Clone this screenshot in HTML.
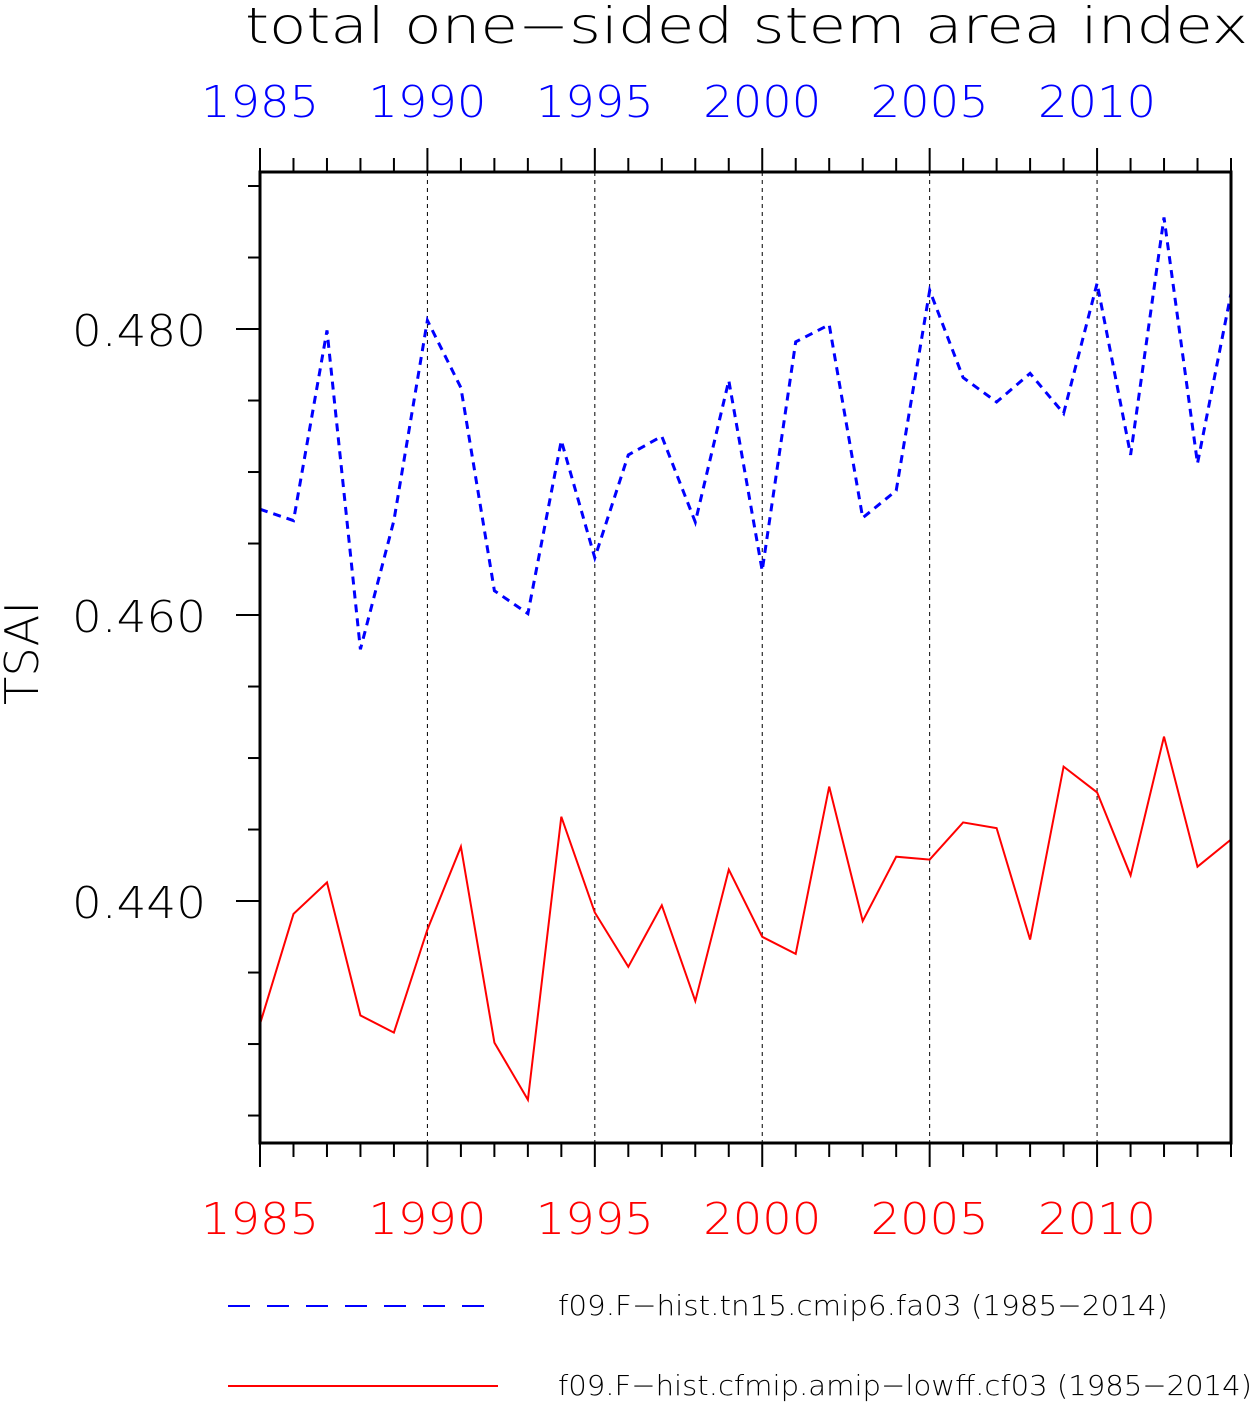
<!DOCTYPE html>
<html><head><meta charset="utf-8"><style>
body{margin:0;background:#fff;}
svg text{font-family:"DejaVu Sans","Liberation Sans",sans-serif;font-weight:200;}
</style></head><body>
<svg width="1254" height="1403" viewBox="0 0 1254 1403" xmlns="http://www.w3.org/2000/svg">
<text x="245" y="43" font-size="50" textLength="1003" lengthAdjust="spacingAndGlyphs" fill="#000">total one−sided stem area index</text>
<text x="38" y="653" font-size="46" text-anchor="middle" transform="rotate(-90 38 653)" textLength="104" lengthAdjust="spacingAndGlyphs" fill="#000">TSAI</text>
<g id="plot"></g>
<g>
<line x1="228" y1="1306" x2="498" y2="1306" stroke="#0000ff" stroke-width="2" stroke-dasharray="22,17"/>
<text x="558" y="1315" font-size="28" textLength="610" lengthAdjust="spacingAndGlyphs" fill="#000">f09.F−hist.tn15.cmip6.fa03 (1985−2014)</text>
<line x1="228" y1="1386" x2="498" y2="1386" stroke="#ff0000" stroke-width="2"/>
<text x="558" y="1395" font-size="28" textLength="694" lengthAdjust="spacingAndGlyphs" fill="#000">f09.F−hist.cfmip.amip−lowff.cf03 (1985−2014)</text>
</g>
</svg>
<script>
const years=[1985,1986,1987,1988,1989,1990,1991,1992,1993,1994,1995,1996,1997,1998,1999,2000,2001,2002,2003,2004,2005,2006,2007,2008,2009,2010,2011,2012,2013,2014];
const blueValues=[0.4674,0.4666,0.4799,0.4576,0.4666,0.4806,0.4759,0.4617,0.4601,0.4722,0.4640,0.4712,0.4725,0.4665,0.4764,0.4631,0.4791,0.4803,0.4668,0.4687,0.4827,0.4766,0.4749,0.4769,0.4741,0.4832,0.4712,0.4878,0.4706,0.4825];
const redValues=[0.4314,0.4391,0.4413,0.4320,0.4308,0.4380,0.4438,0.4301,0.4261,0.4459,0.4392,0.4354,0.4397,0.4330,0.4422,0.4375,0.4363,0.4480,0.4386,0.4431,0.4429,0.4455,0.4451,0.4373,0.4494,0.4476,0.4418,0.4515,0.4424,0.4443];
const yTickLabels=["0.440","0.460","0.480"];
const xTickLabels=["1985","1990","1995","2000","2005","2010"];
const L=260,R=1231,T=172,B=1143;
const x0=1985,x1=2014,yMin=0.42308,yMax=0.49098;
const sx=v=>L+(v-x0)/(x1-x0)*(R-L);
const sy=v=>B-(v-yMin)/(yMax-yMin)*(B-T);
const NS="http://www.w3.org/2000/svg";
const g=document.getElementById('plot');
function mk(tag,attrs){const e=document.createElementNS(NS,tag);for(const k in attrs)e.setAttribute(k,attrs[k]);g.appendChild(e);return e;}
xTickLabels.forEach(t=>{const v=+t;if(v===x0)return;
const e=mk('line',{x1:sx(v),x2:sx(v),y1:T,y2:B,stroke:'#000','stroke-width':1,'stroke-dasharray':'4,4'});

});
for(let y=x0;y<=x1;y++){const maj=(y-x0)%5===0;const X=sx(y);
const a=mk('line',{x1:X,x2:X,y1:T,y2:T-(maj?24:14),stroke:'#000','stroke-width':2});


const b=mk('line',{x1:X,x2:X,y1:B,y2:B+(maj?24:14),stroke:'#000','stroke-width':2});

}
xTickLabels.forEach(t=>{const X=sx(+t);
const a=mk('text',{x:X-59,y:117,'font-size':44,textLength:118,lengthAdjust:'spacingAndGlyphs',fill:'#0000ff'});a.textContent=t;


const b=mk('text',{x:X-59,y:1234,'font-size':44,textLength:118,lengthAdjust:'spacingAndGlyphs',fill:'#ff0000'});b.textContent=t;

});
for(let v=0.425;v<0.491;v+=0.005){const Y=sy(v);const r=Math.round(v*1000)%20;const maj=r===0;
const e=mk('line',{x1:L,x2:L-(maj?24:12),y1:Y,y2:Y,stroke:'#000','stroke-width':2});

}
yTickLabels.forEach(t=>{const e=mk('text',{x:72,y:sy(+t)+17,'font-size':44,textLength:134,lengthAdjust:'spacingAndGlyphs',fill:'#000'});e.textContent=t;

});
function line(vals,color,dash,name){const d=vals.map((v,i)=>(i?'L':'M')+sx(years[i]).toFixed(1)+' '+sy(v).toFixed(1)).join(' ');
const p=mk('path',{d:d,fill:'none',stroke:color,'stroke-width':dash?3:2});if(dash)p.setAttribute('stroke-dasharray','8,6');

}
line(blueValues,'#0000ff',true,'series-fa03');
line(redValues,'#ff0000',false,'series-cf03');
const fr=mk('rect',{x:L,y:T,width:R-L,height:B-T,fill:'none',stroke:'#000','stroke-width':3});


</script>
</body></html>
